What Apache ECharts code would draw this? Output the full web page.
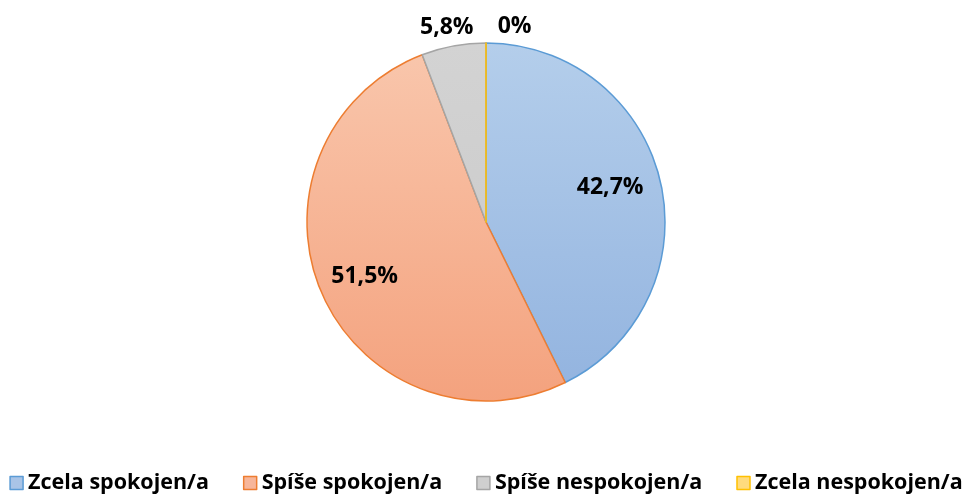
<!DOCTYPE html>
<html>
<head>
<meta charset="utf-8">
<script src="https://cdn.jsdelivr.net/npm/echarts@6/dist/echarts.min.js"></script>
<style>html,body{margin:0;padding:0;background:#fff}#c{width:972px;height:494px}</style>
</head>
<body>
<div id="c"></div>
<script>
const categories = ['Zcela spokojen/a', 'Spíše spokojen/a', 'Spíše nespokojen/a', 'Zcela nespokojen/a'];
const values = [42.7, 51.5, 5.8, 0];
const labels = ['42,7%', '51,5%', '5,8%', '0%'];

const borderColors = ['#5b9bd5', '#ed7d31', '#a5a5a5', '#ffc000'];
const topColors = ['#b4ceeb', '#f9c7ad', '#d3d3d3', '#ffe08a'];
const bottomColors = ['#92b3df', '#f4a27e', '#c8c8c8', '#ffd36a'];
const legendFill = ['#a9c4e7', '#f7b69a', '#cfcfcf', '#ffdb7d'];

const CX = 486, CY = 222, R = 179;
function grad(i) {
  return {type: 'linear', x: 0, y: CY - R, x2: 0, y2: CY + R, global: true,
    colorStops: [{offset: 0, color: topColors[i]}, {offset: 1, color: bottomColors[i]}]};
}
const font = '"Open Sans", "Liberation Sans", Arial, sans-serif';
const labelFont = {fontFamily: font, fontWeight: 'bold', fontSize: 23, color: '#000'};
const insideOffsets = [[-6, -4], [1, 1], [0, 0], [29, -62]];

const mainData = categories.map((n, i) => {
  const d = {name: n, value: values[i],
    itemStyle: {color: grad(i), borderColor: borderColors[i], borderWidth: 1.5}};
  if (i === 2) {
    d.label = {show: true, position: 'outside', formatter: labels[i], offset: [25, -19]};
    d.labelLine = {show: false, length: 0, length2: 0};
  } else {
    d.label = {show: false};
  }
  return d;
});
const labelData = categories.map((n, i) => ({name: n, value: values[i],
  label: {show: i !== 2, formatter: labels[i], offset: insideOffsets[i]}}));

const chart = echarts.init(document.getElementById('c'));
chart.setOption({
  animation: false,
  legend: {
    left: 'center', top: 467, itemWidth: 13, itemHeight: 13, itemGap: 34,
    icon: 'rect',
    textStyle: {fontFamily: font, fontWeight: 'bold', fontSize: 21.5, color: '#000'},
    data: categories.map((n, i) => ({name: n, itemStyle: {color: legendFill[i], borderColor: borderColors[i], borderWidth: 1.5}}))
  },
  series: [{
    type: 'pie', center: [CX, CY], radius: [0, R], startAngle: 90, clockwise: true,
    silent: true, avoidLabelOverlap: false,
    label: labelFont,
    data: mainData
  }, {
    type: 'pie', center: [CX, CY], radius: [0, R * 1.46], startAngle: 90, clockwise: true,
    silent: true, avoidLabelOverlap: false, legendHoverLink: false, minAngle: 0.3,
    itemStyle: {color: 'rgba(0,0,0,0)', borderWidth: 0},
    label: Object.assign({position: 'inside'}, labelFont),
    labelLine: {show: false},
    data: labelData
  }]
});
</script>
</body>
</html>
